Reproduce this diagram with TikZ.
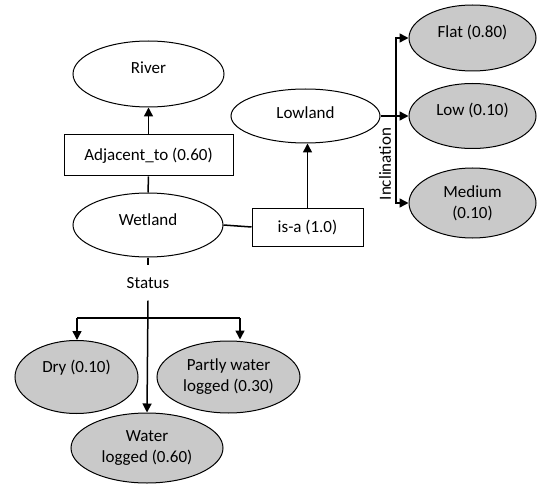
\documentclass[tikz,border=0pt]{standalone}
\usepackage{fontspec}
\setmainfont{Carlito}
\usetikzlibrary{shapes.geometric,arrows.meta}
\definecolor{ovalgray}{RGB}{201,201,201}
\tikzset{
  oval/.style={ellipse,draw=black,line width=1pt,inner sep=0pt},
  grayoval/.style={oval,fill=ovalgray},
  relbox/.style={rectangle,draw=black,line width=1pt,inner sep=0pt},
  lbl/.style={inner sep=0pt,align=center,font=\fontsize{17}{21}\selectfont},
  conn/.style={line width=1.5pt},
  arr/.style={conn,-{Triangle[length=9pt,width=9pt]}}
}
\begin{document}
\begin{tikzpicture}[x=1pt,y=-1pt]
\useasboundingbox (0,0) rectangle (541,484);
% nodes
\node[oval,minimum width=151pt,minimum height=66pt] (river) at (148.5,74) {};
\node[lbl] (rivert) at (148.5,68) {River};
\node[relbox,minimum width=169pt,minimum height=41pt,lbl] (adj) at (148.5,155.5) {Adjacent\_to (0.60)};
\node[oval,minimum width=150pt,minimum height=64pt] (wetland) at (148,225) {};
\node[lbl] (wetlandt) at (148,220) {Wetland};
\node[relbox,minimum width=111pt,minimum height=38pt,lbl] (isa) at (307.5,227) {is-a (1.0)};
\node[oval,minimum width=149pt,minimum height=54pt] (lowland) at (305.5,116) {};
\node[lbl] (lowlandt) at (305.5,113) {Lowland};
\node[grayoval,minimum width=127pt,minimum height=66pt] (flat) at (472.5,38) {};
\node[lbl] (flatt) at (472.5,32) {Flat (0.80)};
\node[grayoval,minimum width=127pt,minimum height=65pt] (low) at (472.5,116) {};
\node[lbl] (lowt) at (472.5,110) {Low (0.10)};
\node[grayoval,minimum width=127pt,minimum height=70pt,lbl] (medium) at (472.5,203) {Medium\\(0.10)};
\node[grayoval,minimum width=123pt,minimum height=73pt] (dry) at (76.5,377) {};
\node[lbl] (dryt) at (76.5,368) {Dry (0.10)};
\node[grayoval,minimum width=143pt,minimum height=72pt,lbl] (partly) at (228.5,377) {Partly water\\logged (0.30)};
\node[grayoval,minimum width=152pt,minimum height=70pt,lbl] (water) at (147,448) {Water\\logged (0.60)};
\node[lbl,minimum height=35pt] (status) at (148,283) {Status};
\node[lbl,rotate=90] (incl) at (385,164) {Inclination};
% junctions
\coordinate (ljct) at (396,116);
\coordinate (sjct) at (148,318);
\coordinate (djct) at (77,318);
\coordinate (pjct) at (240,318);
% connectors
\draw[arr] (adj.north) -- (river.south);
\draw[conn] (wetland.north) -- (adj.south);
\draw[conn] (wetland.east) -- (isa.west);
\draw[arr] (isa.north) -- (isa.north |- lowland.south);
\draw[conn] (lowland.east) -- (ljct);
\draw[arr] (ljct) |- (flat.west);
\draw[arr] (ljct) -- (low.west);
\draw[arr] (ljct) |- (medium.west);
\draw[conn] (wetland.south) -- (status.north);
\draw[arr] (status.south) -- (water.north);
\draw[conn] (djct) -- (pjct);
\draw[arr] (djct) -- (djct |- dry.north);
\draw[arr] (pjct) -- ([yshift=1pt]pjct |- partly.north);
\end{tikzpicture}
\end{document}
